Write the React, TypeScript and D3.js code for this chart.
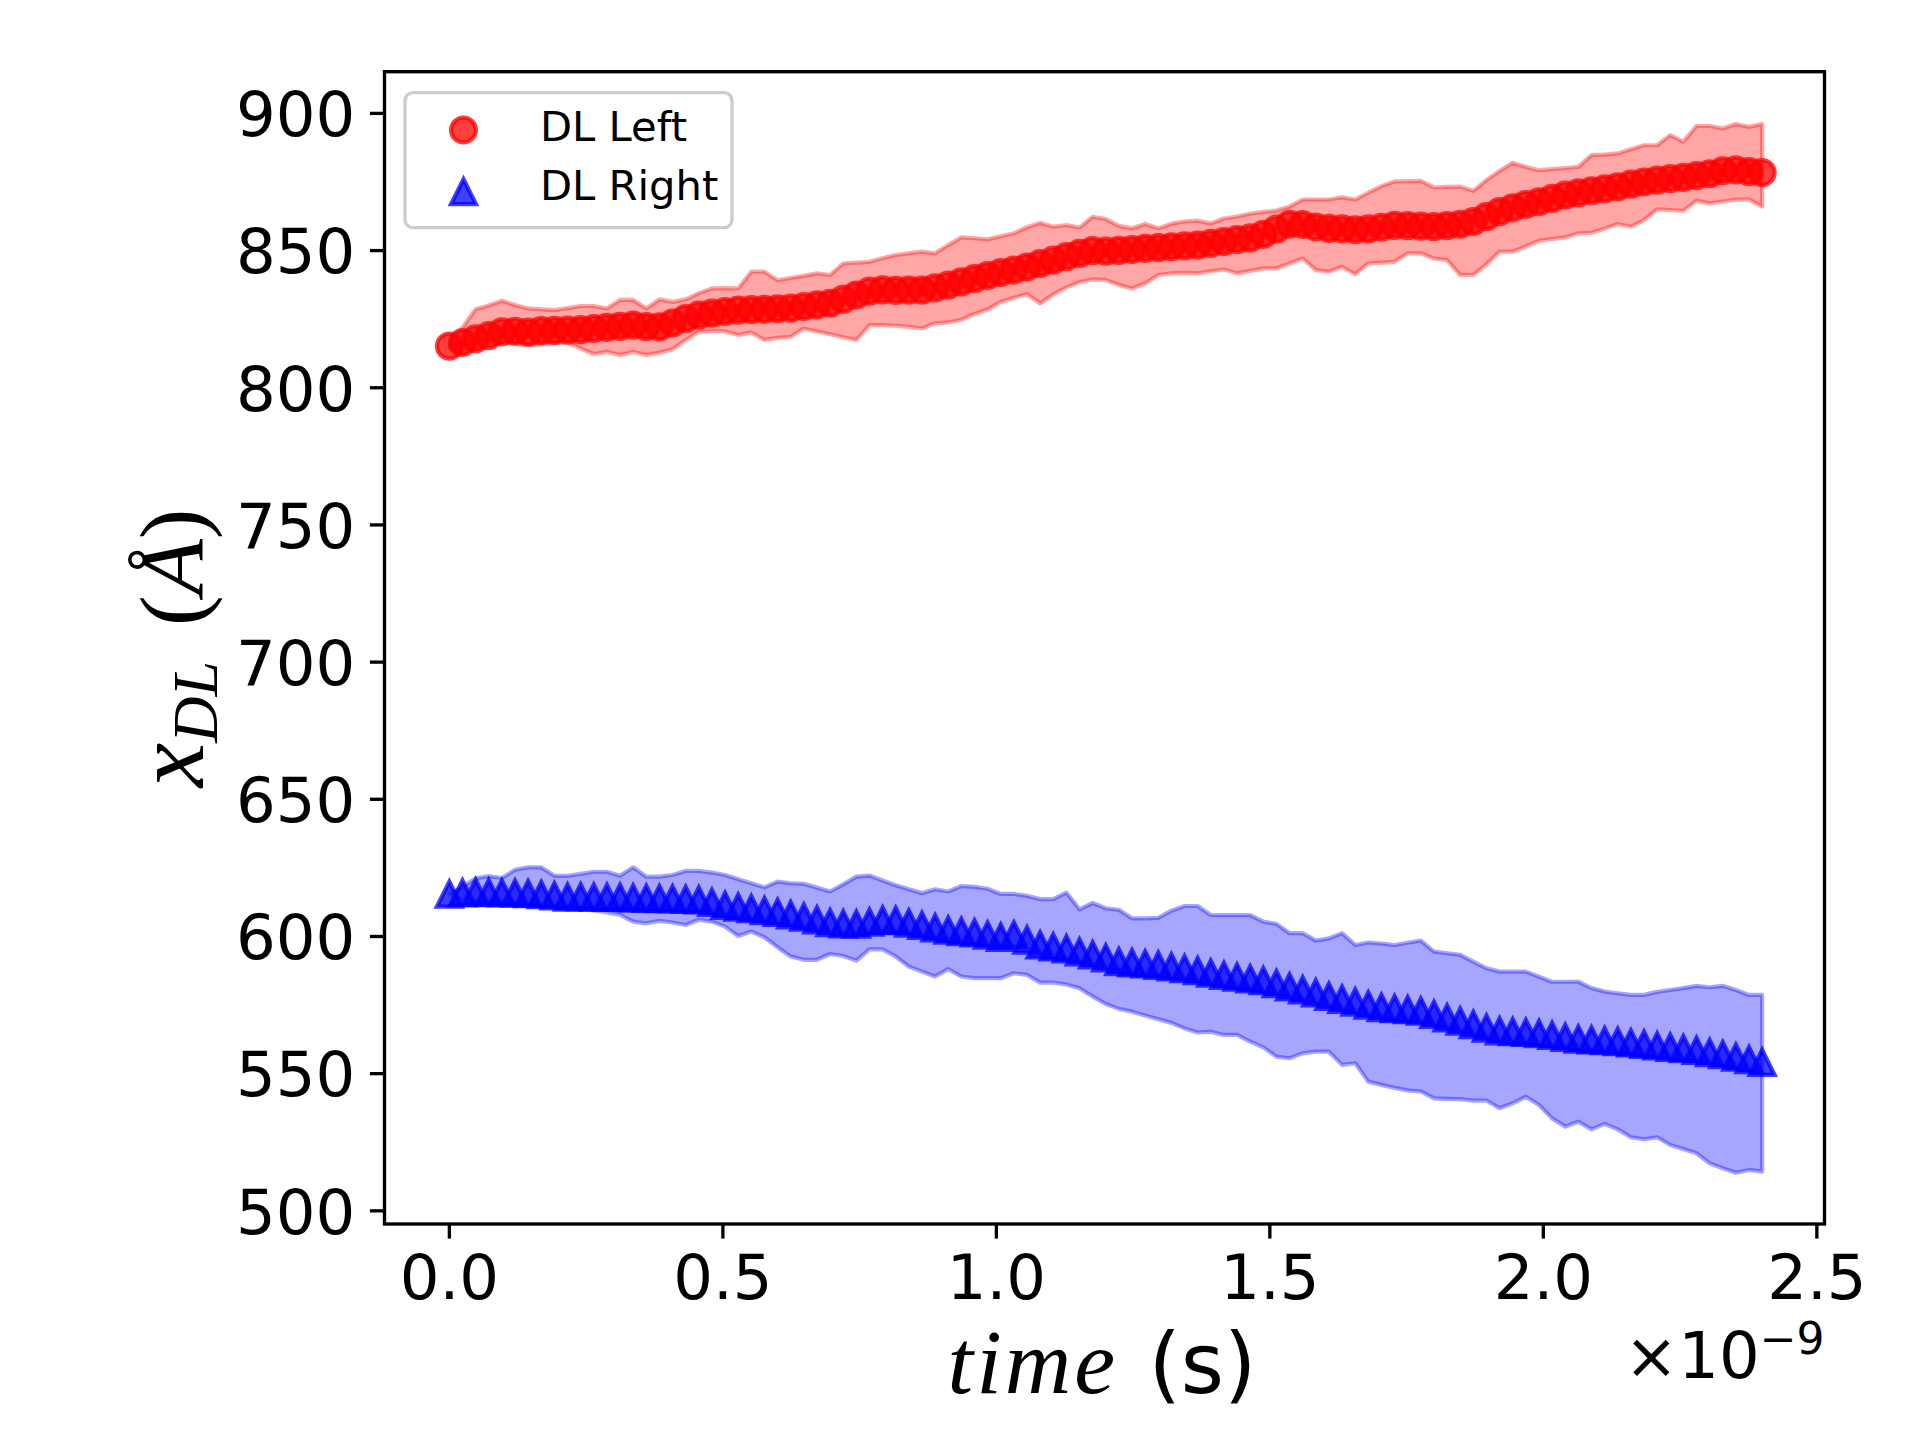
import * as d3 from "d3";

// sampling step of the time axis, in units of 1e-9 s
const TIME_STEP = 0.024;

const LEFT_MEAN = [
  815.2, 816.5, 817.8, 819, 820.4, 820.6, 820.3, 820.8, 820.9, 821,
  821.2, 821.6, 822, 822.4, 822.8, 822.3, 822.2, 823.6, 825.2, 826.5,
  827.2, 827.8, 828.3, 828.5, 828.6, 828.8, 829, 829.6, 830.2, 830.8,
  832.2, 833.8, 835.2, 835.7, 835.5, 835.6, 835.6, 836.4, 837.4, 838.6,
  839.8, 840.9, 842, 842.9, 844, 845.3, 846.5, 847.8, 849, 850,
  849.8, 850.1, 850.4, 850.8, 851.1, 851.4, 851.7, 852, 852.6, 853.3,
  854, 854.6, 855.9, 857.8, 859.6, 859.5, 858.6, 858.1, 857.9, 857.6,
  857.9, 858.5, 859.2, 859.1, 858.9, 858.7, 859.1, 859.6, 860.6, 862.4,
  864.2, 865.6, 866.8, 867.8, 869, 870.2, 871, 871.8, 872.5, 873.2,
  874.2, 875, 875.7, 876.2, 876.7, 877.3, 878, 879.1, 879.4, 878.8,
  878.4,
];

const LEFT_UPPER = [
  816, 822, 828.6, 830, 831.7, 830.2, 828.9, 828.6, 828.3, 829,
  829.8, 829.8, 828.9, 832, 832, 828.9, 832.2, 831.3, 832.2, 834.5,
  836.2, 836.3, 836.2, 842.3, 842.3, 839.2, 840, 840.8, 841.7, 841.1,
  845.3, 845.6, 845.9, 847.2, 848.4, 849, 849.6, 849, 852, 854.8,
  854.5, 854.1, 855.2, 856.3, 858.5, 860.1, 858.7, 859.3, 858.4, 862.3,
  861.5, 859, 858.1, 859.7, 858.1, 859.8, 860.6, 860.9, 859.9, 861.7,
  862.4, 863.4, 864.1, 864.6, 866, 868.6, 868.6, 868.6, 869.4, 868.6,
  871.1, 873.5, 875.2, 875.3, 875.4, 873, 873.2, 873.3, 871.8, 875.7,
  879, 882, 880.5, 879.3, 879.7, 880.1, 880.5, 884.8, 885, 885.4,
  886.9, 888.4, 888.4, 892.1, 889.7, 895.4, 895.4, 894.5, 896.1, 895.1,
  896.1,
];

const LEFT_LOWER = [
  814.5, 813.5, 814, 815.5, 816.5, 816, 815.5, 815.8, 816.2, 816.5,
  814.3, 812.3, 813.1, 811.9, 813.1, 811.9, 812.8, 814, 817.4, 820.4,
  820.8, 820.5, 819.2, 820.1, 817.4, 818.2, 818.6, 821.6, 820.5, 819.5,
  818.4, 817.4, 822.8, 822.8, 822.6, 822.2, 821.6, 823.5, 823.8, 824.8,
  826.9, 828.5, 831.3, 832.8, 834.1, 830.7, 834, 836.6, 838.5, 839.5,
  839.3, 837.5, 836.2, 838, 841.1, 841.7, 841.9, 841.7, 842.5, 843.1,
  841.7, 842.6, 843.5, 843.5, 845.3, 847.1, 842.9, 842.3, 844.1, 841.4,
  845.3, 845.6, 845.9, 849, 849, 847.1, 846.5, 841.1, 841.1, 845,
  849.6, 849.6, 851.5, 853.6, 854.2, 854.8, 856.3, 856.5, 858, 859.7,
  858.7, 861.1, 865, 864.8, 864.5, 868.2, 867.2, 867.9, 868.6, 868.6,
  866,
];

const RIGHT_MEAN = [
  615.4, 615.9, 616.1, 616, 615.9, 615.8, 615.6, 615.2, 614.8, 614.3,
  614.4, 614.3, 614.2, 614.2, 614, 613.9, 613.8, 613.7, 613.5, 613.3,
  612.4, 611.3, 610.7, 610.1, 609.4, 608.8, 607.9, 607, 606, 605,
  604.6, 604.5, 605.2, 605.9, 605.8, 604.9, 604, 603.1, 602.3, 601.8,
  601.3, 600.5, 599.7, 600.6, 598.7, 596.9, 596.2, 595.5, 594.4, 593.3,
  592.2, 590.8, 590.4, 590, 589.5, 588.9, 588.3, 587.5, 586.6, 585.8,
  585.2, 584.5, 583.9, 582.8, 581.6, 580.5, 579.4, 578.2, 577.1, 576.1,
  575, 574.1, 573.7, 573.3, 572.8, 571.6, 570.3, 569.1, 567.9, 566.6,
  565.6, 565.3, 565, 564.6, 563.9, 563.2, 562.6, 562.3, 562, 561.7,
  561.2, 560.7, 560.1, 559.6, 559.1, 558.5, 557.7, 556.9, 556, 555.1,
  554.1,
];

const RIGHT_UPPER = [
  615.5, 618, 621.2, 622, 621.3, 624.3, 625.2, 625.2, 622.1, 622.1,
  622.8, 623.6, 623.6, 622.1, 625.2, 621.8, 621.8, 622.4, 623.9, 623.9,
  623.3, 622.4, 620.9, 619.4, 617.9, 620, 619.4, 619.2, 617.8, 616.4,
  619, 621.8, 622.2, 620.4, 618.7, 617.2, 615.8, 617.2, 616.4, 618.4,
  618.1, 617.4, 615.5, 615.5, 614.8, 613.6, 613.6, 616, 609.9, 612.2,
  610.3, 609.7, 606.6, 606.6, 606.8, 609.4, 611.1, 611.1, 607.8, 607.8,
  607.8, 607.8, 605.4, 604.6, 601.2, 601.2, 598.5, 599.3, 601.2, 596.9,
  597.8, 597.4, 596.9, 597.7, 598.5, 594.5, 593.9, 593.3, 590.8, 588.4,
  587.2, 587.2, 587.2, 585.3, 583.5, 583.5, 583.5, 581.2, 579.9, 579.3,
  578.7, 578.7, 579.8, 580.5, 581.2, 582, 581.5, 582, 580.5, 578.7,
  578.7,
];

const RIGHT_LOWER = [
  615.3, 613.5, 612.5, 612.2, 612, 611.8, 611.6, 611.2, 610.8, 610.4,
  610, 609.5, 608.8, 607.9, 605.4, 604.8, 605.7, 605.1, 604.2, 606.1,
  605.4, 603.6, 600.2, 601.8, 599.7, 596.1, 592.7, 591.5, 591.5, 593.6,
  592.9, 591.2, 595.3, 595.3, 592.7, 589, 587.2, 585.4, 588.1, 585.4,
  584.8, 584.8, 584.8, 586.6, 586, 583.2, 583.2, 582.5, 581.1, 578.1,
  575.4, 573.6, 572.6, 571.2, 569.8, 568.5, 566.5, 565, 565.3, 564.1,
  564.1, 561.7, 559.6, 556.2, 555.6, 557.4, 558, 558, 553.2, 553.8,
  547.1, 545.9, 544.8, 543.9, 543.5, 541, 540.8, 540.7, 540.2, 540.2,
  537.4, 539.2, 541.6, 538.6, 533.7, 530.7, 532.5, 529.7, 531.7, 529.7,
  526.8, 526.1, 526.8, 524, 522.5, 521, 517.3, 515.5, 513.9, 514.9,
  514.3,
];

const X_TICKS = [0, 0.5, 1.0, 1.5, 2.0, 2.5];
const Y_TICKS = [500, 550, 600, 650, 700, 750, 800, 850, 900];
const LEGEND_LABELS = ["DL Left", "DL Right"];

const W = 1920;
const H = 1440;
const PLOT = { left: 384.5, right: 1824.5, top: 71.7, bottom: 1224 };
const LW = 3.33; // 0.8pt at 300dpi
const TICK = 14.6;
const TICK_FONT = 62.5;
const SANS = "'DejaVu Sans', sans-serif";
const SERIF = "'Liberation Serif', 'DejaVu Serif', serif";
const MARKER_R = 12.5;
const MARKER_ALPHA = 0.75;

type Row = { t: number; mean: number; lo: number; hi: number };

function rows(mean: number[], lo: number[], hi: number[]): Row[] {
  return mean.map((m, i) => ({ t: i * TIME_STEP, mean: m, lo: lo[i], hi: hi[i] }));
}

// matplotlib "^" marker: apex above, base below the data point
function triangle(cx: number, cy: number, r: number) {
  return `M${cx},${cy - r}L${cx - r},${cy + r}L${cx + r},${cy + r}Z`;
}

export default function App() {
  const x = d3.scaleLinear().domain([-0.1186, 2.514]).range([PLOT.left, PLOT.right]);
  const y = d3.scaleLinear().domain([495.2, 915.2]).range([PLOT.bottom, PLOT.top]);

  const left = rows(LEFT_MEAN, LEFT_LOWER, LEFT_UPPER);
  const right = rows(RIGHT_MEAN, RIGHT_LOWER, RIGHT_UPPER);

  const band = d3
    .area<Row>()
    .x((d) => x(d.t))
    .y0((d) => y(d.lo))
    .y1((d) => y(d.hi));

  return (
    <svg
      width={W}
      height={H}
      viewBox={`0 0 ${W} ${H}`}
      style={{ position: "absolute", left: 0, top: 0, background: "#fff" }}
    >
      <rect width={W} height={H} fill="#fff" />

      {/* spread bands */}
      <path
        d={band(left) ?? ""}
        fill="#ff0000"
        fillOpacity={0.35}
        stroke="#ff0000"
        strokeOpacity={0.35}
        strokeWidth={4.2}
        strokeLinejoin="round"
      />
      <path
        d={band(right) ?? ""}
        fill="#0000ff"
        fillOpacity={0.35}
        stroke="#0000ff"
        strokeOpacity={0.35}
        strokeWidth={4.2}
        strokeLinejoin="round"
      />

      {/* markers */}
      {left.map((d, i) => (
        <circle
          key={`l${i}`}
          cx={x(d.t)}
          cy={y(d.mean)}
          r={MARKER_R}
          fill="#ff0000"
          fillOpacity={MARKER_ALPHA}
          stroke="#ff0000"
          strokeOpacity={MARKER_ALPHA}
          strokeWidth={4.2}
        />
      ))}
      {right.map((d, i) => (
        <path
          key={`r${i}`}
          d={triangle(x(d.t), y(d.mean), MARKER_R)}
          fill="#0000ff"
          fillOpacity={MARKER_ALPHA}
          stroke="#0000ff"
          strokeOpacity={MARKER_ALPHA}
          strokeWidth={4.2}
        />
      ))}

      {/* frame */}
      <rect
        x={PLOT.left}
        y={PLOT.top}
        width={PLOT.right - PLOT.left}
        height={PLOT.bottom - PLOT.top}
        fill="none"
        stroke="#000"
        strokeWidth={LW}
      />

      {/* x ticks */}
      {X_TICKS.map((t) => (
        <g key={`xt${t}`}>
          <line
            x1={x(t)}
            x2={x(t)}
            y1={PLOT.bottom}
            y2={PLOT.bottom + TICK}
            stroke="#000"
            strokeWidth={LW}
          />
          <text
            x={x(t)}
            y={PLOT.bottom + TICK + 14.6 + 45.6}
            textAnchor="middle"
            fontFamily={SANS}
            fontSize={TICK_FONT}
          >
            {t.toFixed(1)}
          </text>
        </g>
      ))}

      {/* y ticks */}
      {Y_TICKS.map((v) => (
        <g key={`yt${v}`}>
          <line
            x1={PLOT.left - TICK}
            x2={PLOT.left}
            y1={y(v)}
            y2={y(v)}
            stroke="#000"
            strokeWidth={LW}
          />
          <text
            x={PLOT.left - TICK - 14.6}
            y={y(v) + 22.8}
            textAnchor="end"
            fontFamily={SANS}
            fontSize={TICK_FONT}
          >
            {v}
          </text>
        </g>
      ))}

      {/* offset text */}
      <text x={PLOT.right} y={1378} textAnchor="end" fontFamily={SANS} fontSize={64}>
        <tspan>×10</tspan>
        <tspan fontSize={44} dy={-24}>
          −9
        </tspan>
      </text>

      {/* x label */}
      <text x={1102} y={1393} textAnchor="middle" fontSize={83}>
        <tspan fontFamily={SERIF} fontStyle="italic" fontSize={92} letterSpacing={3}>
          time
        </tspan>
        <tspan fontFamily={SANS} dx={4}> (s)</tspan>
      </text>

      {/* y label */}
      <text
        transform={`translate(203,${(PLOT.top + PLOT.bottom) / 2}) rotate(-90)`}
        textAnchor="middle"
        fontFamily={SERIF}
        fontSize={92}
      >
        <tspan fontStyle="italic" fontSize={100}>x</tspan>
        <tspan fontStyle="italic" fontSize={64} dy={14}>
          DL
        </tspan>
        <tspan dy={-14} dx={12}> (</tspan>
        <tspan fontStyle="italic">Å</tspan>
        <tspan>)</tspan>
      </text>

      {/* legend */}
      <g>
        <rect
          x={405}
          y={92.7}
          width={327}
          height={135}
          rx={8}
          fill="#fff"
          fillOpacity={0.8}
          stroke="#cccccc"
          strokeWidth={LW}
        />
        <circle
          cx={463.5}
          cy={130}
          r={MARKER_R}
          fill="#ff0000"
          fillOpacity={MARKER_ALPHA}
          stroke="#ff0000"
          strokeOpacity={MARKER_ALPHA}
          strokeWidth={4.2}
        />
        <path
          d={triangle(463.5, 191.7, MARKER_R)}
          fill="#0000ff"
          fillOpacity={MARKER_ALPHA}
          stroke="#0000ff"
          strokeOpacity={MARKER_ALPHA}
          strokeWidth={4.2}
        />
        {LEGEND_LABELS.map((label, i) => (
          <text key={label} x={540} y={140.7 + i * 59.5} fontFamily={SANS} fontSize={41.7}>
            {label}
          </text>
        ))}
      </g>
    </svg>
  );
}
